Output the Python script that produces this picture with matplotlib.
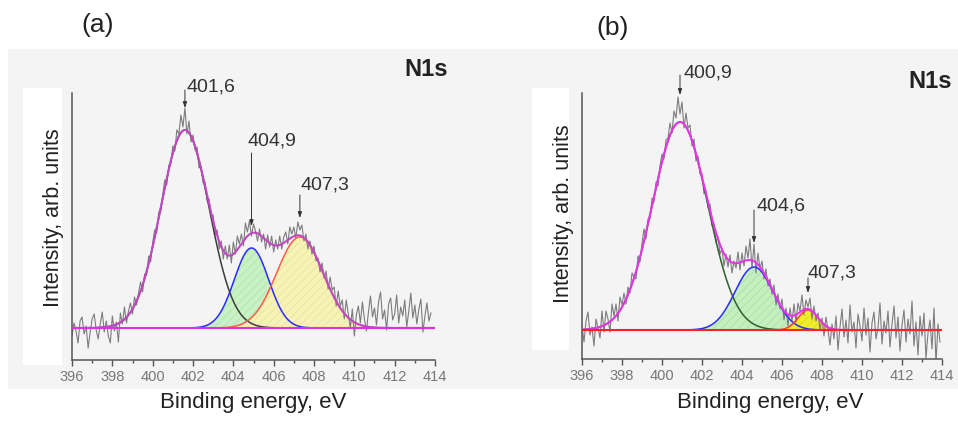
import numpy as np
import matplotlib
matplotlib.use("Agg")
import matplotlib.pyplot as plt
from matplotlib.patches import Rectangle

plt.rcParams['font.family'] = ['Liberation Sans', 'DejaVu Sans']
plt.rcParams['hatch.linewidth'] = 0.5

# ---------------------------------------------------------------- data
E0, DE = 396.0, 0.1          # raw spectra sampled every 0.1 eV from 396 eV
X_TICKS = list(range(396, 415, 2))

raw_a = [
    -8, 5, -3, -15, 7, 11, -6, 2, -20, -4,
    9, 14, -2, -11, 4, 16, -4, 7, -8, -15,
    12, -3, 6, -14, 15, 4, 21, 5, 17, 25,
    14, 31, 23, 35, 46, 36, 54, 53, 72, 66,
    85, 98, 95, 116, 116, 133, 148, 143, 163, 164,
    182, 177, 198, 194, 213, 201, 220, 194, 207, 186,
    193, 178, 181, 160, 162, 145, 146, 127, 129, 111,
    113, 93, 98, 79, 87, 69, 82, 69, 83, 65,
    86, 74, 92, 84, 94, 82, 105, 96, 107, 92,
    104, 97, 87, 99, 86, 94, 79, 93, 81, 92,
    76, 88, 79, 92, 79, 91, 96, 84, 101, 94,
    101, 90, 106, 98, 103, 87, 94, 79, 87, 74,
    82, 67, 70, 56, 65, 50, 57, 39, 51, 38,
    41, 22, 37, 22, 28, 9, 28, 14, 0, 19,
    -8, 13, 22, 5, 26, 9, -3, 16, 32, 11,
    20, 3, 26, 36, 9, 18, -2, 24, 30, 8,
    14, 33, 5, 21, 12, 28, 1, 17, 35, 10,
    23, 4, 19, 29, -4, 12, 25, 7, 15,
]
raw_b = [
    4, -12, 9, 18, -5, 3, -16, 11, 2, -8,
    19, -2, 19, 11, -2, 26, 14, 26, 9, 33,
    25, 37, 26, 43, 37, 57, 53, 51, 74, 68,
    87, 101, 91, 111, 111, 132, 128, 148, 144, 164,
    176, 171, 190, 192, 207, 197, 219, 212, 233, 216,
    228, 202, 217, 202, 205, 184, 191, 169, 174, 156,
    156, 136, 139, 122, 126, 104, 106, 87, 93, 76,
    81, 64, 76, 63, 75, 57, 69, 62, 78, 60,
    77, 64, 84, 72, 91, 62, 86, 57, 77, 61,
    69, 51, 61, 44, 51, 36, 45, 25, 36, 21,
    31, 10, 22, 4, 22, 9, 26, 8, 27, 19,
    35, 15, 30, 23, 32, 11, 24, 9, 17, 0,
    12, -6, 13, 0, -15, 6, -9, 14, -20, 3,
    21, -7, 10, -13, 25, -2, 8, -18, 16, 4,
    -11, 22, -5, 12, -22, 7, 18, -9, 2, 27,
    -14, 9, -3, 19, -17, 6, 24, -8, 13, -21,
    5, 20, -12, 11, -4, 29, -16, 8, -25, 14,
    -6, 17, -28, -3, 10, -19, 22, -33, 6, -12,
]

# fitted components: centre (eV), height, gaussian sigma (eV)
centers_a = [401.6, 404.9, 407.3]
heights_a = [198, 80, 91]
sigmas_a = [1.2, 0.85, 1.15]
labels_a = ["401,6", "404,9", "407,3"]

centers_b = [400.9, 404.6, 407.3]
heights_b = [208, 63, 20]
sigmas_b = [1.38, 0.95, 0.5]
labels_b = ["400,9", "404,6", "407,3"]


def gauss(x, c, h, s):
    return h * np.exp(-(x - c) ** 2 / (2 * s * s))


W, H = 958, 423
fig = plt.figure(figsize=(W / 100, H / 100), dpi=100)


def px_rect(x0, y0, x1, y1, color, z):
    fig.add_artist(Rectangle((x0 / W, 1 - y1 / H), (x1 - x0) / W, (y1 - y0) / H,
                             transform=fig.transFigure, fc=color, ec="none", zorder=z))


# grey panel background + white strips behind the y labels
px_rect(8, 49, 958, 389, "#f4f4f4", -10)
px_rect(23, 88, 62, 365, "white", -5)
px_rect(532, 88, 569, 350, "white", -5)


def panel(rect, raw, cen, hgt, sig, labels, ylim, style, notes):
    ax = fig.add_axes(rect)
    ax.set_facecolor("none")
    x = E0 + DE * np.arange(len(raw))
    xf = np.linspace(396, 414, 901)
    comps = [gauss(xf, c, h, s) for c, h, s in zip(cen, hgt, sig)]
    env = comps[0] + comps[1] + comps[2]

    ax.fill_between(xf, 0, comps[1], facecolor=style["fill2"], edgecolor=style["hatch2"],
                    hatch="////", lw=0, zorder=1)
    ax.fill_between(xf, 0, comps[2], facecolor=style["fill3"], edgecolor=style["hatch3"],
                    hatch="////", lw=0, zorder=1)
    ax.plot(x, raw, color="#7c7c7c", lw=0.8, zorder=2)
    ax.plot(xf, comps[0], color=style["c1"], lw=1.1, zorder=3)
    ax.plot(xf, comps[1], color="#2b2bff", lw=1.1, zorder=3)
    ax.plot(xf, comps[2], color=style["c3"], lw=1.1, zorder=3)
    ax.plot(xf, env, color=style["env"], lw=1.5, zorder=4)
    ax.plot([396, 414], [0, 0], color=style["base"], lw=1.5, zorder=5)

    for c, h, lab, (top, tip, tx, ty) in zip(cen, hgt, labels, notes):
        ax.annotate("", xy=(c, h + tip), xytext=(c, h + top), annotation_clip=False,
                    arrowprops=dict(arrowstyle="-|>,head_length=0.35,head_width=0.12",
                                    color="#333333", lw=0.7, shrinkA=0, shrinkB=0))
        ax.text(c + tx, h + ty, lab, fontsize=14, color="#333333", va="baseline", ha="left")

    ax.set_xlim(396, 414)
    ax.set_ylim(*ylim)
    ax.set_xticks(X_TICKS)
    ax.set_xticks(range(396, 415), minor=True)
    ax.set_yticks([])
    for s in ("top", "right"):
        ax.spines[s].set_visible(False)
    for s in ("left", "bottom"):
        ax.spines[s].set_color("#555555")
        ax.spines[s].set_linewidth(1.1)
    ax.tick_params(axis="x", which="major", length=4, width=1, color="#555555",
                   labelsize=10.5, labelcolor="#777777", pad=3)
    ax.tick_params(axis="x", which="minor", length=2.5, width=1, color="#555555")
    return ax


style_a = dict(fill2="#c9f2c4", hatch2="#b0e0aa", fill3="#f6f3b4", hatch3="#e6e19c",
               c1="#3c3c3c", c3="#ff5a4a", env="#c048c0", base="#e030e0")
style_b = dict(fill2="#c4f0bf", hatch2="#aadca4", fill3="#eeee2a", hatch3="#d8d624",
               c1="#2f5f2f", c3="#ff4020", env="#e536e5", base="#ff2020")

# (arrow top, arrow tip, text dx, text y) relative to each peak height
notes_a = [(40, 22, 0.1, 39), (95, 22, -0.2, 102), (42, 19, 0.05, 47)]
notes_b = [(47, 27, 0.2, 44), (57, 24, 0.12, 57), (32, 17, 0.0, 33)]

panel([72 / W, 63 / H, 363 / W, 267 / H], raw_a, centers_a, heights_a, sigmas_a,
      labels_a, (-32, 235), style_a, notes_a)
panel([582 / W, 64 / H, 360 / W, 266 / H], raw_b, centers_b, heights_b, sigmas_b,
      labels_b, (-29, 237), style_b, notes_b)

# panel texts
for xc in (253, 770):
    fig.text(xc / W, 1 - 402 / H, "Binding energy, eV", fontsize=16, color="#222222",
             ha="center", va="center")
fig.text(54 / W, 1 - 218 / H, "Intensity, arb. units", fontsize=15.5, color="#222222",
         rotation=90, ha="center", va="center")
fig.text(564 / W, 1 - 214 / H, "Intensity, arb. units", fontsize=15.5, color="#222222",
         rotation=90, ha="center", va="center")
fig.text(448 / W, 1 - 70 / H, "N1s", fontsize=17, fontweight="bold", color="#222222",
         ha="right", va="center")
fig.text(952 / W, 1 - 81 / H, "N1s", fontsize=17, fontweight="bold", color="#222222",
         ha="right", va="center")
fig.text(98 / W, 1 - 25 / H, "(a)", fontsize=19, color="#222222", ha="center", va="center")
fig.text(613 / W, 1 - 28 / H, "(b)", fontsize=19, color="#222222", ha="center", va="center")

fig.savefig("out.png", dpi=100)
